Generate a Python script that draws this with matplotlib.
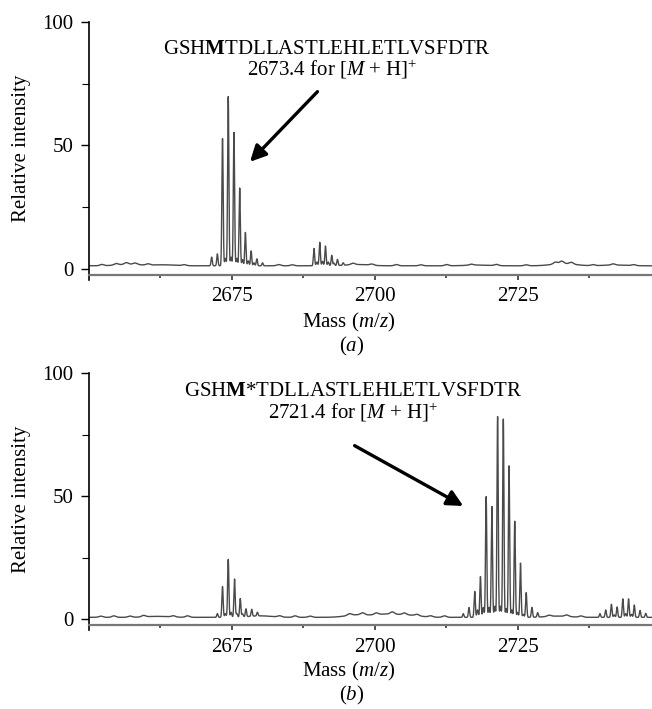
import numpy as np
import matplotlib
matplotlib.use("Agg")
import matplotlib.pyplot as plt

plt.rcParams['font.family'] = ['Liberation Serif', 'DejaVu Serif']
plt.rcParams['mathtext.fontset'] = 'custom'
plt.rcParams['mathtext.rm'] = 'Liberation Serif'
plt.rcParams['mathtext.it'] = 'Liberation Serif:italic'
plt.rcParams['mathtext.bf'] = 'Liberation Serif:bold'

# ---------------- data ----------------
# panel (a): peak centres (m/z) and relative intensities
a_mz = [2671.5, 2672.5, 2673.4, 2674.4, 2675.4, 2676.4, 2677.4, 2678.4, 2679.4, 2680.4,
        2689.4, 2690.4, 2691.4, 2692.5, 2693.5, 2694.5]
a_int = [3.5, 4.8, 51.5, 68.5, 54.0, 31.5, 13.5, 6.0, 2.8, 1.2,
         7.0, 9.5, 8.0, 4.2, 2.5, 1.0]
# small in-between humps (panel a)
a_sat_mz = [2673.9, 2674.9, 2675.9, 2676.9, 2677.9, 2678.9, 2689.9, 2690.9, 2691.9, 2692.9]
a_sat_int = [3.0, 3.5, 3.0, 2.5, 2.0, 1.2, 1.5, 1.8, 1.5, 1.0]
# baseline of panel a: level and broad bumps
a_base = 1.3
a_bump_mz = [2657.0, 2663.0, 2697.0, 2718.0, 2733.0, 2742.0]
a_bump_int = [0.6, 0.4, 0.5, 0.3, 0.9, 0.3]
# small baseline ripples (panel a)
a_rip_mz = [2652.3, 2654.8, 2656.6, 2658.1, 2660.4, 2666.7, 2683.2, 2685.6, 2696.2, 2699.5,
            2703.8, 2708.1, 2712.6, 2716.9, 2721.3, 2726.5, 2731.6, 2732.7, 2734.4, 2738.2,
            2741.7, 2745.3]
a_rip_int = [0.5, 0.6, 0.7, 0.6, 0.5, 0.4, 0.5, 0.4, 0.6, 0.5,
             0.5, 0.4, 0.5, 0.4, 0.5, 0.4, 0.8, 1.0, 0.7, 0.4, 0.5, 0.4]

# panel (b)
b_mz = [2672.5, 2673.4, 2674.4, 2675.5, 2676.5, 2677.5, 2678.5, 2679.5,
        2715.5, 2716.5, 2717.5, 2718.5, 2719.5, 2720.5, 2721.5, 2722.5, 2723.5,
        2724.5, 2725.5, 2726.5, 2727.5, 2728.5,
        2739.4, 2740.4, 2741.4, 2742.4, 2743.4, 2744.4, 2745.4, 2746.4, 2747.4]
b_int = [1.5, 12.5, 23.5, 15.5, 7.5, 3.2, 2.8, 1.5,
         1.5, 4.0, 10.5, 16.5, 49.0, 45.0, 81.5, 80.5, 61.5,
         39.0, 22.0, 10.0, 4.0, 1.8,
         1.5, 3.0, 5.3, 4.2, 7.5, 7.5, 5.0, 2.8, 1.6]
b_sat_mz = [2673.9, 2674.9, 2675.9, 2676.9, 2718.0, 2719.0, 2720.0, 2721.0, 2722.0,
            2723.0, 2724.0, 2725.0, 2726.0, 2741.9, 2743.9, 2744.9]
b_sat_int = [1.5, 2.0, 1.5, 1.2, 3.0, 4.0, 4.0, 4.5, 4.5, 3.5, 3.0, 2.0, 1.2, 1.0, 1.5, 1.2]
b_base = 0.8
b_bump_mz = [2662.0, 2680.0, 2697.0, 2702.0, 2706.0, 2732.0]
b_bump_int = [0.4, 0.6, 1.0, 1.2, 0.8, 0.5]
b_rip_mz = [2652.1, 2654.4, 2657.2, 2659.6, 2664.8, 2667.3, 2683.4, 2686.1, 2688.7, 2695.6,
            2697.9, 2700.3, 2703.1, 2705.2, 2707.4, 2709.8, 2712.2, 2730.5, 2733.6, 2736.1]
b_rip_int = [0.5, 0.6, 0.5, 0.6, 0.5, 0.6, 0.5, 0.6, 0.5, 0.7,
             0.8, 0.7, 0.9, 0.7, 0.6, 0.5, 0.6, 0.5, 0.6, 0.5]

x_major = [2675, 2700, 2725]
x_minor = [2662.5, 2687.5, 2712.5, 2737.5]
y_major = [0, 50, 100]
y_minor = [25, 75]

# ---------------- helpers ----------------
mz = np.arange(2650.0, 2748.6, 0.01)


def profile(centres, heights, sat_c, sat_h, rip_c, rip_h, base, bump_c, bump_h):
    y = np.full_like(mz, base)
    for c, h in zip(bump_c, bump_h):
        y += h * np.exp(-0.5 * ((mz - c) / 2.0) ** 2)
    for c, h in zip(rip_c, rip_h):
        y += h * np.exp(-0.5 * ((mz - c) / 0.35) ** 2)
    for c, h in zip(sat_c, sat_h):
        y += h * np.exp(-0.5 * ((mz - c) / 0.12) ** 2)
    for c, h in zip(centres, heights):
        y += h * np.exp(-0.5 * ((mz - c) / 0.11) ** 2)
    return y


W, H = 652, 709
fig = plt.figure(figsize=(W / 100, H / 100), dpi=100)


def px(x, y):
    return x / W, 1 - y / H


fs = 15


def make_axes(top_px, zero_px):
    scale = (zero_px - top_px) / 100.0
    ymin = -4.5
    bottom_px = zero_px - ymin * scale
    left = 88.7
    ax = fig.add_axes([left / W, 1 - bottom_px / H, (W - left) / W, (bottom_px - top_px) / H])
    ax.set_xlim(2650, 2748.5)
    ax.set_ylim(ymin, 100)
    ax.spines['top'].set_visible(False)
    ax.spines['right'].set_visible(False)
    ax.spines['bottom'].set_position(('data', -2.4))
    ax.spines['bottom'].set_color('#777777')
    ax.spines['bottom'].set_linewidth(1.6)
    ax.spines['left'].set_linewidth(1.2)
    ax.set_xticks(x_major)
    ax.set_xticks(x_minor, minor=True)
    ax.set_yticks(y_major)
    ax.set_yticks(y_minor, minor=True)
    ax.tick_params(axis='x', which='major', direction='out', length=3.5, width=1.2,
                   labelsize=fs, pad=5.5, color='#333333')
    ax.tick_params(axis='x', which='minor', direction='out', length=2.5, width=1.2,
                   color='#333333')
    ax.tick_params(axis='y', which='major', direction='out', length=6, width=1.0,
                   labelsize=fs, pad=5)
    ax.tick_params(axis='y', which='minor', direction='out', length=5, width=0.8)
    ax.patch.set_alpha(0)
    return ax


ax1 = make_axes(22.0, 269.0)
ax1.plot(mz, profile(a_mz, a_int, a_sat_mz, a_sat_int, a_rip_mz, a_rip_int,
                     a_base, a_bump_mz, a_bump_int),
         color='#4a4a4a', lw=1.0)

ax2 = make_axes(373.0, 619.3)
ax2.plot(mz, profile(b_mz, b_int, b_sat_mz, b_sat_int, b_rip_mz, b_rip_int,
                     b_base, b_bump_mz, b_bump_int),
         color='#4a4a4a', lw=1.0)

# axis labels
for yc in (148.5, 499.0):
    fig.text(*px(22, yc), 'Relative intensity', rotation=90, ha='center', va='center', fontsize=fs)
for yc, lab in ((322, 'a'), (671, 'b')):
    fig.text(*px(349, yc), r'Mass ($\mathit{m/z}$)', ha='center', va='center', fontsize=fs)
    fig.text(*px(352, yc + 24), r'($\mathit{' + lab + r'}$)', ha='center', va='center', fontsize=fs)

# annotations
fig.text(*px(327, 49), r'GSH$\mathbf{M}$TDLLASTLEHLETLVSFDTR', ha='center', va='center', fontsize=fs)
fig.text(*px(332, 69), r'2673.4 for [$\mathit{M}$ + H]$^{+}$', ha='center', va='center', fontsize=fs)
fig.text(*px(353, 392), r'GSH$\mathbf{M}$*TDLLASTLEHLETLVSFDTR', ha='center', va='center', fontsize=fs)
fig.text(*px(353, 412), r'2721.4 for [$\mathit{M}$ + H]$^{+}$', ha='center', va='center', fontsize=fs)

arrow = dict(arrowstyle='-|>', lw=2.4, color='black', mutation_scale=24, shrinkA=0, shrinkB=0)
ax1.annotate('', xy=(2678.2, 43.4), xytext=(2690.0, 71.8), arrowprops=arrow)
ax2.annotate('', xy=(2715.5, 46.0), xytext=(2696.5, 70.5), arrowprops=arrow)

fig.savefig('out.png', dpi=100)
